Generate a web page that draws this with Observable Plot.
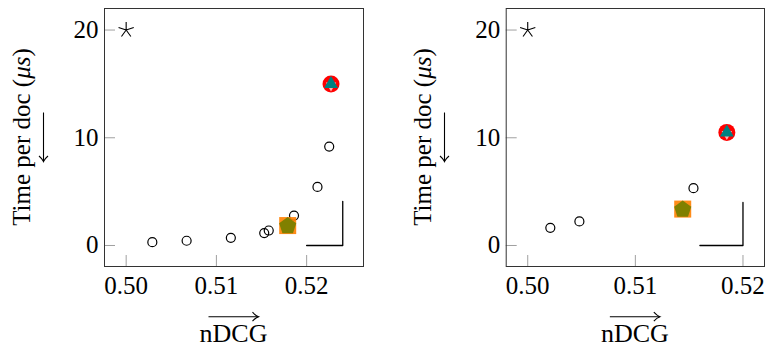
<!DOCTYPE html>
<html><head><meta charset="utf-8">
<script src="https://cdn.jsdelivr.net/npm/d3@7"></script>
<script src="https://cdn.jsdelivr.net/npm/@observablehq/plot@0.6"></script>
<style>
body{margin:0;background:#fff}
#c{display:flex;width:765px;height:349px;overflow:hidden}
svg{display:block}
</style></head><body><div id="c"></div>
<script>
// ---- data ----
const xTicks = [0.50, 0.51, 0.52];
const yTicks = [0, 10, 20];
const xLabel = "nDCG";
const yLabelMain = "Time per doc (";
const yLabelUnit = "μs";

// left panel
const leftCircleX = [0.5029, 0.5067, 0.5116, 0.5153, 0.5158, 0.5186, 0.5212, 0.5225];
const leftCircleY = [0.31, 0.44, 0.71, 1.15, 1.39, 2.78, 5.44, 9.18];
const leftStar = [0.50, 20];
const leftTriangle = [0.5227, 15.0];
const leftSquare = [0.5179, 1.85];
const leftCornerX = [0.520, 0.524, 0.524];
const leftCornerY = [0, 0, 4.1];
const leftXDomain = [0.4976, 0.5263];

// right panel
const rightCircleX = [0.5021, 0.5048, 0.5154];
const rightCircleY = [1.64, 2.23, 5.32];
const rightStar = [0.50, 20];
const rightTriangle = [0.5185, 10.5];
const rightSquare = [0.5144, 3.38];
const rightCornerX = [0.516, 0.520, 0.520];
const rightCornerY = [0, 0, 4.0];
const rightXDomain = [0.4980, 0.5220];

const yDomain = [-1.95, 22.0];

// ---- custom symbols ----
const star5 = {draw(ctx, size){const R=Math.sqrt(size/Math.PI);for(let i=0;i<5;i++){const a=-Math.PI/2+i*2*Math.PI/5;ctx.moveTo(0,0);ctx.lineTo(R*Math.cos(a),R*Math.sin(a));}}};
const pentagon = {draw(ctx, size){const R=Math.sqrt(size/Math.PI);for(let i=0;i<5;i++){const a=-Math.PI/2+i*2*Math.PI/5;const x=R*Math.cos(a),y=R*Math.sin(a);i?ctx.lineTo(x,y):ctx.moveTo(x,y);}ctx.closePath();}};
const triUp = {draw(ctx, size){const R=Math.sqrt(size/Math.PI);for(let i=0;i<3;i++){const a=-Math.PI/2+i*2*Math.PI/3;const x=R*Math.cos(a),y=R*Math.sin(a);i?ctx.lineTo(x,y):ctx.moveTo(x,y);}ctx.closePath();}};
const triDown = {draw(ctx, size){const R=Math.sqrt(size/Math.PI);for(let i=0;i<3;i++){const a=Math.PI/2+i*2*Math.PI/3;const x=R*Math.cos(a),y=R*Math.sin(a);i?ctx.lineTo(x,y):ctx.moveTo(x,y);}ctx.closePath();}};

const FONT = "Liberation Serif, Times New Roman, serif";
const FS = 25;
const H = 349, MT = 8, MB = 83;
const frameH = H - MT - MB;

function panel(cfg){
  const frameW = cfg.width - cfg.marginLeft - cfg.marginRight;
  const circles = cfg.cx.map((x,i)=>({x, y: cfg.cy[i]}));
  const corner = cfg.lx.map((x,i)=>({x, y: cfg.ly[i]}));
  const pt = a => [{x:a[0], y:a[1]}];
  const svg = Plot.plot({
    width: cfg.width, height: H,
    marginLeft: cfg.marginLeft, marginRight: cfg.marginRight, marginTop: MT, marginBottom: MB,
    x: {domain: cfg.xDomain, axis: null},
    y: {domain: yDomain, axis: null},
    style: {fontFamily: FONT, fontSize: FS + "px", color: "black", background: "white", overflow: "visible"},
    marks: [
      Plot.tickX(xTicks, {x: d=>d, insetTop: frameH - 11, stroke: "#a0a0a0", strokeWidth: 1}),
      Plot.tickY(yTicks, {y: d=>d, insetRight: frameW - 11, stroke: "#a0a0a0", strokeWidth: 1}),
      Plot.axisX(xTicks, {tickSize: 0, tickPadding: 10, tickFormat: d3.format(".2f"), label: null, fontSize: FS}),
      Plot.axisY(yTicks, {tickSize: 0, tickPadding: 6, label: null, fontSize: FS}),
      Plot.line(corner, {x: "x", y: "y", stroke: "black", strokeWidth: 1.3}),
      Plot.dot(circles, {x: "x", y: "y", r: 4.5, stroke: "black", strokeWidth: 1.2, fill: "none"}),
      Plot.dot(pt(cfg.star), {x: "x", y: "y", symbol: star5, r: 8, stroke: "black", strokeWidth: 1.1, fill: "none"}),
      Plot.dot(pt(cfg.tri), {x: "x", y: "y", symbol: "circle", r: 8.5, fill: "#ff0000", stroke: "none"}),
      Plot.dot(pt(cfg.tri), {x: "x", y: "y", symbol: triDown, r: 6, fill: "#ffb3b3", stroke: "none", dy: 1.5}),
      Plot.dot(pt(cfg.tri), {x: "x", y: "y", symbol: triUp, r: 8, fill: "#008080", stroke: "none", dy: 0}),
      Plot.dot(pt(cfg.sq), {x: "x", y: "y", symbol: "square", r: 9.6, fill: "#ff8000", stroke: "none", fillOpacity: 0.9}),
      Plot.dot(pt(cfg.sq), {x: "x", y: "y", symbol: pentagon, r: 9, fill: "#808000", stroke: "none", dy: 0.5}),
      Plot.frame({stroke: "#333", strokeWidth: 1})
    ]
  });
  const s = d3.select(svg);
  const cx = cfg.marginLeft + frameW/2;
  const cy = MT + frameH/2;
  // y label
  const yl = s.append("text")
    .attr("transform", `translate(29.5,${cy}) rotate(-90)`)
    .attr("text-anchor", "middle")
    .attr("font-family", FONT).attr("font-size", FS).attr("fill", "black");
  yl.append("tspan").text(yLabelMain);
  yl.append("tspan").attr("font-style", "italic").text(yLabelUnit);
  yl.append("tspan").text(")");
  // y arrow (pointing down)
  const ya = s.append("g").attr("stroke", "black").attr("fill", "none").attr("stroke-width", 1.1);
  ya.append("line").attr("x1", 43.5).attr("x2", 43.5).attr("y1", cy - 24.5).attr("y2", cy + 24.5);
  ya.append("path").attr("d", `M${43.5-4.5},${cy+19} Q${43.5-1},${cy+22} ${43.5},${cy+24.5} Q${43.5+1},${cy+22} ${43.5+4.5},${cy+19}`);
  // x label
  s.append("text").attr("x", cx).attr("y", 341.5).attr("text-anchor", "middle")
    .attr("font-family", FONT).attr("font-size", FS + 1).attr("fill", "black").text(xLabel);
  const xa = s.append("g").attr("stroke", "black").attr("fill", "none").attr("stroke-width", 1.1);
  xa.append("line").attr("x1", cx - 25).attr("x2", cx + 25).attr("y1", 316.7).attr("y2", 316.7);
  xa.append("path").attr("d", `M${cx+19},${316.7-4.5} Q${cx+22},${316.7-1} ${cx+25},316.7 Q${cx+22},${316.7+1} ${cx+19},${316.7+4.5}`);
  return svg;
}

const c = document.getElementById("c");
c.appendChild(panel({width: 401, marginLeft: 104, marginRight: 38, xDomain: leftXDomain,
  cx: leftCircleX, cy: leftCircleY, star: leftStar, tri: leftTriangle, sq: leftSquare, lx: leftCornerX, ly: leftCornerY}));
c.appendChild(panel({width: 364, marginLeft: 104.7, marginRight: 1, xDomain: rightXDomain,
  cx: rightCircleX, cy: rightCircleY, star: rightStar, tri: rightTriangle, sq: rightSquare, lx: rightCornerX, ly: rightCornerY}));
</script>
</body></html>
